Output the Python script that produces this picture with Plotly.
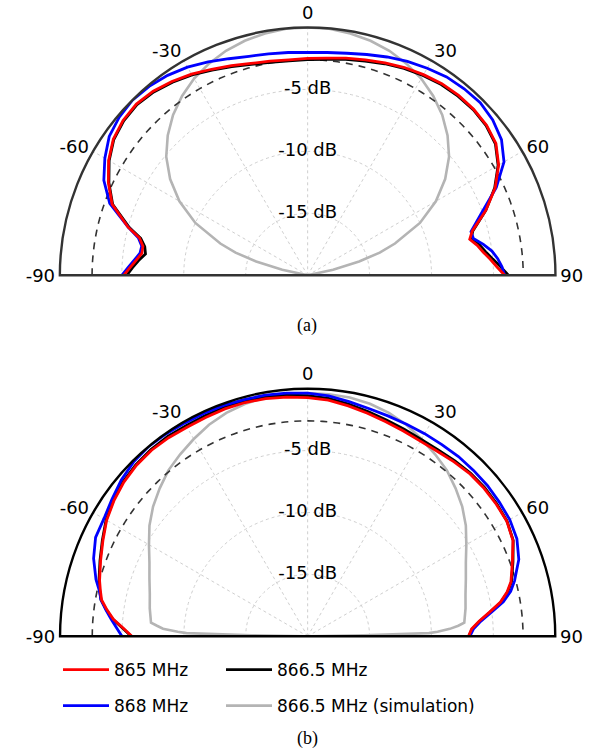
import plotly.graph_objects as go

# ---------------- data ----------------
THETA = [-90, -87.5, -85, -82.5, -80, -77.5, -75, -70, -65, -60, -55, -50, -45, -40, -35,
         -30, -25, -20, -15, -10, -5, 0, 5, 10, 15, 20, 25, 30, 35, 40, 45, 50, 55, 60,
         65, 70, 75, 77.5, 80, 82.5, 85, 87.5, 90]

# (a)
A_865 = [-5.15, -5.65, -6.1, -6.5, -6.5, -6.1, -5.0, -3.2, -2.25, -1.45, -0.85, -0.55, -0.45, -0.6, -0.9,
         -1.25, -1.65, -2.0, -2.3, -2.45, -2.55, -2.5, -2.4, -2.2, -2.0, -1.75, -1.5, -1.3, -1.12, -1.05,
         -1.05, -1.15, -1.45, -2.2, -3.3, -4.7, -6.25, -6.6, -6.1, -5.7, -5.2, -4.7, -4.1]
A_8665 = [-5.4, -5.85, -6.3, -6.8, -6.65, -6.2, -5.1, -3.25, -2.3, -1.5, -0.9, -0.62, -0.52, -0.68, -0.98,
          -1.33, -1.73, -2.08, -2.38, -2.55, -2.62, -2.6, -2.5, -2.3, -2.1, -1.83, -1.58, -1.38, -1.2, -1.12,
          -1.1, -1.2, -1.5, -2.25, -3.35, -4.7, -6.2, -6.5, -5.9, -5.5, -5.0, -4.4, -3.8]
A_868 = [-5.0, -5.5, -5.95, -6.35, -6.4, -6.0, -5.0, -3.0, -1.85, -1.1, -0.45, -0.15, 0.0, -0.1, -0.3,
         -0.6, -1.0, -1.4, -1.7, -1.85, -1.95, -2.0, -1.95, -1.8, -1.55, -1.25, -0.95, -0.7, -0.45, -0.35,
         -0.3, -0.5, -0.9, -1.7, -3.2, -5.0, -6.35, -6.3, -5.6, -5.0, -4.6, -4.3, -4.1]
SIM_A_THETA = [-90, -85, -80, -77.5, -75, -72.5, -70, -65, -60, -55, -50, -45, -40, -35, -30, -25, -20,
               -15, -10, -5, 0, 5, 10, 15, 20, 25, 30, 35, 40, 45, 50, 55, 60, 65, 70, 72.5, 75, 77.5,
               80, 85, 90]
SIM_A = [-20, -20, -20, -17.9, -15.7, -13.9, -12.5, -10.0, -8.05, -6.45, -5.1, -4.03, -3.1, -2.33, -1.67,
         -1.15, -0.72, -0.4, -0.18, -0.03, 0.0, -0.03, -0.18, -0.4, -0.72, -1.15, -1.67, -2.33, -3.1,
         -4.03, -5.1, -6.45, -8.05, -10.0, -12.5, -13.9, -15.7, -17.9, -20, -20, -20]

# (b)
B_865 = [-5.8, -5.1, -4.25, -3.65, -3.1, -2.85, -2.6, -2.2, -1.75, -1.25, -0.9, -0.62, -0.45, -0.38, -0.42,
         -0.5, -0.5, -0.45, -0.45, -0.5, -0.6, -0.72, -0.85, -1.1, -1.35, -1.55, -1.7, -1.8, -1.75, -1.6,
         -1.45, -1.4, -1.4, -1.42, -1.7, -2.4, -3.0, -3.5, -4.2, -5.2, -6.1, -6.75, -7.0]
B_8665 = [-5.75, -5.05, -4.2, -3.6, -3.05, -2.8, -2.55, -2.15, -1.7, -1.2, -0.85, -0.55, -0.38, -0.3, -0.3,
          -0.35, -0.35, -0.32, -0.32, -0.36, -0.45, -0.56, -0.7, -0.95, -1.2, -1.4, -1.55, -1.65, -1.62, -1.5,
          -1.38, -1.33, -1.35, -1.4, -1.68, -2.35, -2.95, -3.45, -4.15, -5.15, -6.05, -6.7, -7.0]
B_868 = [-5.0, -4.56, -4.06, -3.55, -3.05, -2.75, -2.3, -1.6, -1.1, -1.0, -0.7, -0.35, -0.1, 0.0, -0.05,
         -0.12, -0.15, -0.15, -0.2, -0.22, -0.28, -0.35, -0.5, -0.75, -0.95, -1.05, -1.1, -1.1, -1.1, -1.05,
         -1.05, -1.05, -1.1, -1.15, -1.35, -1.85, -2.7, -3.2, -3.95, -5.0, -5.95, -6.6, -6.9]
SIM_B_THETA = [-90, -89, -88.5, -88, -87, -86, -85, -80, -75, -70, -65, -60, -55, -50, -45, -40, -35, -30,
               -25, -20, -15, -10, -5, 0, 5, 10, 15, 20, 25, 30, 35, 40, 45, 50, 55, 60, 65, 70, 75, 80,
               85, 86, 87, 88, 88.5, 89, 90]
SIM_B = [-20, -15.5, -10.2, -9.5, -8.3, -7.8, -7.3, -7.05, -6.8, -6.4, -5.9, -5.2, -4.4, -3.7, -3.1, -2.5,
         -2.05, -1.6, -1.15, -0.8, -0.55, -0.42, -0.37, -0.35, -0.37, -0.42, -0.55, -0.8, -1.15, -1.6,
         -2.05, -2.5, -3.1, -3.7, -4.4, -5.2, -5.9, -6.4, -6.8, -7.05, -7.3, -7.8, -8.5, -9.5, -10.2,
         -15.5, -20]

DASH_LEVEL = -2.6          # dashed reference circle (dB)
R_RANGE = [-20, 0]
RADIAL_TICKS = [-5, -10, -15]
RADIAL_LABELS = ["-5 dB", "-10 dB", "-15 dB"]
ANG_TICKVALS = [-90, -60, -30, 0, 30, 60, 90]
ANG_TICKTEXT = ["-90", "-60", "-30", "0", "30", "60", "90"]
NAMES = ["865 MHz", "866.5 MHz", "868 MHz", "866.5 MHz (simulation)"]

FONT = "DejaVu Sans"
RED, BLUE, BLACK, GRAY = "#ff0000", "#0000ff", "#000000", "#b4b4b4"

fig = go.Figure()


def add_panel(sub, d865, d8665, d868, sim_theta, sim, legend_on):
    ref_theta = list(range(-90, 91, 2))
    fig.add_trace(go.Scatterpolar(theta=sim_theta, r=sim, mode="lines", subplot=sub,
                                  line=dict(color=GRAY, width=2.6), name=NAMES[3],
                                  showlegend=legend_on, legend="legend2", legendgroup="g4",
                                  legendrank=2))
    fig.add_trace(go.Scatterpolar(theta=ref_theta, r=[DASH_LEVEL] * len(ref_theta), mode="lines",
                                  subplot=sub, line=dict(color="#333333", width=1.6, dash="7px,6px"),
                                  showlegend=False, hoverinfo="skip"))
    # baseline (diameter)
    fig.add_trace(go.Scatterpolar(theta=[-90, -90, 90, 90], r=[R_RANGE[1], R_RANGE[0], R_RANGE[0], R_RANGE[1]],
                                  mode="lines", subplot=sub, line=dict(color="black", width=2.6),
                                  showlegend=False, hoverinfo="skip"))
    fig.add_trace(go.Scatterpolar(theta=THETA, r=d8665, mode="lines", subplot=sub,
                                  line=dict(color=BLACK, width=2.8), name=NAMES[1],
                                  showlegend=legend_on, legend="legend2", legendgroup="g2",
                                  legendrank=1))
    fig.add_trace(go.Scatterpolar(theta=THETA, r=d868, mode="lines", subplot=sub,
                                  line=dict(color=BLUE, width=2.8), name=NAMES[2],
                                  showlegend=legend_on, legend="legend", legendgroup="g3",
                                  legendrank=2))
    fig.add_trace(go.Scatterpolar(theta=THETA, r=d865, mode="lines", subplot=sub,
                                  line=dict(color=RED, width=2.8), name=NAMES[0],
                                  showlegend=legend_on, legend="legend", legendgroup="g1",
                                  legendrank=1))
    fig.add_trace(go.Scatterpolar(theta=[0] * len(RADIAL_TICKS), r=RADIAL_TICKS, mode="text",
                                  text=RADIAL_LABELS, subplot=sub, showlegend=False, hoverinfo="skip",
                                  textfont=dict(family=FONT, size=18, color="black")))


add_panel("polar", A_865, A_8665, A_868, SIM_A_THETA, SIM_A, False)
add_panel("polar2", B_865, B_8665, B_868, SIM_B_THETA, SIM_B, True)


def polar_layout(ydom, arc_color):
    return dict(
        domain=dict(x=[59.3 / 597, 556 / 597], y=ydom),
        sector=[0, 180],
        bgcolor="white",
        angularaxis=dict(rotation=90, direction="clockwise", tickmode="array",
                         tickvals=ANG_TICKVALS, ticktext=ANG_TICKTEXT, ticks="",
                         showline=True, linecolor=arc_color, linewidth=2.4,
                         gridcolor="#cfcfcf", griddash="dot", gridwidth=1,
                         tickfont=dict(family=FONT, size=18, color="black")),
        radialaxis=dict(range=R_RANGE, tickmode="array", tickvals=RADIAL_TICKS, ticks="",
                        showticklabels=False, showline=False,
                        gridcolor="#cfcfcf", griddash="dot", gridwidth=1),
    )


legend_common = dict(orientation="v", traceorder="grouped", tracegroupgap=11,
                     itemwidth=46, bgcolor="rgba(0,0,0,0)", xanchor="left", yanchor="top",
                     font=dict(family=FONT, size=17, color="black"))

fig.update_layout(
    width=597, height=751,
    margin=dict(l=0, r=0, t=0, b=0),
    paper_bgcolor="white",
    font=dict(family=FONT, color="black"),
    polar=polar_layout([1 - 275.3 / 751, 1 - 27.5 / 751], "#333333"),
    polar2=polar_layout([1 - 636.3 / 751, 1 - 388.7 / 751], "#000000"),
    legend=dict(x=58 / 597, y=1 - 652 / 751, **legend_common),
    legend2=dict(x=221 / 597, y=1 - 652 / 751, **legend_common),
    annotations=[
        dict(text="(a)", x=0.515, y=1 - 325 / 751, xref="paper", yref="paper", showarrow=False,
             xanchor="center", yanchor="middle",
             font=dict(family="Liberation Serif", size=18, color="black")),
        dict(text="(b)", x=0.515, y=1 - 738 / 751, xref="paper", yref="paper", showarrow=False,
             xanchor="center", yanchor="middle",
             font=dict(family="Liberation Serif", size=18, color="black")),
    ],
)

fig.write_html("out.html")
